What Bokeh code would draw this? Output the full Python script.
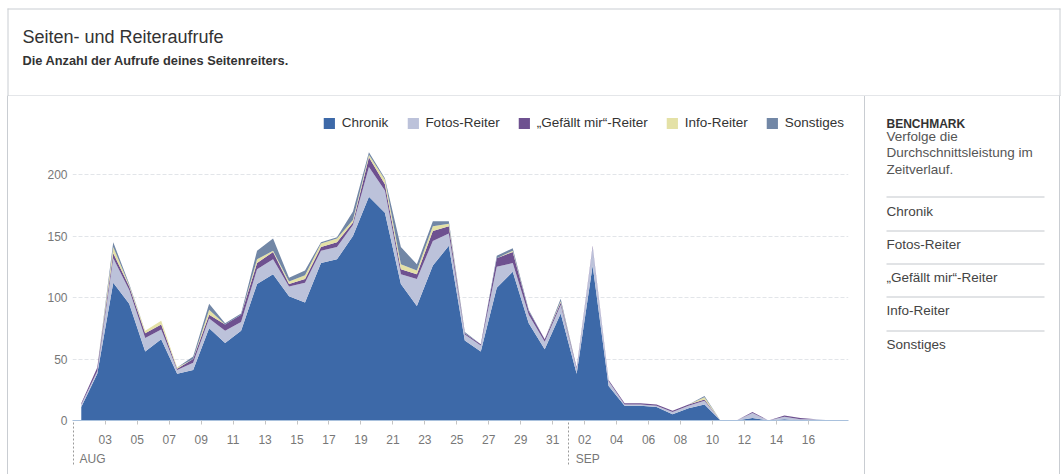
from bokeh.plotting import figure
from bokeh.models import (ColumnDataSource, FixedTicker, Legend, LegendItem, Label,
                          LinearAxis, Range1d, Spacer)
from bokeh.layouts import column, row
from bokeh.embed import file_html
from bokeh.resources import INLINE

# ---------------- data ----------------
# day index: 1 = 1 Aug ... 32 = 1 Sep ... 48 = 17 Sep
days = list(range(1, 49))
chronik = [11, 38, 112, 95, 56, 66, 38, 41, 75, 63,
           73, 111, 119, 101, 96, 128, 131, 150, 182, 169,
           111, 93, 126, 142, 65, 56, 108, 121, 79, 58,
           87, 38, 126, 28, 12, 12, 11, 5, 10, 13,
           0, 0, 2, 0, 1, 0, 0, 0]
fotos = [2, 2, 20, 11, 11, 8, 3, 6, 8, 10,
         7, 12, 12, 8, 16, 10, 10, 9, 24, 18,
         8, 22, 20, 10, 5, 5, 17, 7, 7, 6,
         7, 4, 15, 4, 1, 1, 1, 2, 2, 3,
         0, 0, 4, 0, 2, 1, 1, 0]
gefaellt = [1, 3, 4, 3, 4, 4, 1, 3, 3, 5,
            6, 5, 6, 2, 3, 3, 4, 2, 8, 5,
            4, 4, 8, 6, 1, 1, 7, 9, 3, 2,
            2, 1, 1, 1, 1, 1, 1, 1, 1, 1,
            0, 0, 1, 0, 1, 1, 0, 0]
info = [0, 0, 5, 1, 2, 3, 1, 0, 4, 0,
        0, 3, 1, 2, 3, 3, 3, 2, 2, 4,
        4, 3, 4, 2, 0, 0, 0, 1, 0, 0,
        1, 0, 0, 0, 0, 0, 0, 0, 0, 2,
        0, 0, 0, 0, 0, 0, 0, 0]
sonstiges = [0, 0, 4, 1, 0, 0, 0, 2, 5, 1,
             1, 7, 10, 3, 4, 1, 1, 7, 2, 1,
             14, 5, 4, 2, 1, 0, 2, 2, 1, 0,
             2, 0, 0, 0, 0, 0, 0, 0, 0, 1,
             0, 0, 0, 0, 0, 0, 0, 0]

series_names = ["Chronik", "Fotos-Reiter", "\u201eGef\u00e4llt mir\u201c-Reiter", "Info-Reiter", "Sonstiges"]
series_colors = ["#3d69a8", "#bcc2da", "#6e5190", "#e4e1a6", "#7287a6"]

x_tick_days = [3, 5, 7, 9, 11, 13, 15, 17, 19, 21, 23, 25, 27, 29, 31,
               33, 35, 37, 39, 41, 43, 45, 47]
x_tick_labels = ["03", "05", "07", "09", "11", "13", "15", "17", "19", "21", "23", "25", "27", "29", "31",
                 "02", "04", "06", "08", "10", "12", "14", "16"]
month_starts = [1, 32]
month_labels = ["AUG", "SEP"]
y_ticks = [0, 50, 100, 150, 200]

title_text = "Seiten- und Reiteraufrufe"
subtitle_text = "Die Anzahl der Aufrufe deines Seitenreiters."
side_head = "BENCHMARK"
side_lines = ["Verfolge die", "Durchschnittsleistung im", "Zeitverlauf."]

# ---------------- layout constants ----------------
TOTAL_W, TOTAL_H = 1064, 474
HEAD_H = 96
BODY_H = TOTAL_H - HEAD_H
PAD_L = 7
MAIN_W = 856
PAD_R = 4
SIDE_W = TOTAL_W - PAD_L - 1 - MAIN_W - 1 - 1 - PAD_R
FONT = "Liberation Sans"
BORDER = "#c9cdd2"
SEP = "#c3c7cc"

# chart frame inside its canvas (shared by main chart and side panel)
FL, FR, FT, FB = 64, 840, 15, 324
PX_PER_DAY = 15.98
PX_PER_UNIT = 1.23
x0 = 0.95
x1 = x0 + (FR - FL) / PX_PER_DAY
y1 = (FB - FT) / PX_PER_UNIT


def add_text(f, x, y, t, size="13.5px", color="#555555", style="normal"):
    f.add_layout(Label(x=x, y=y, text=t, text_font=FONT, text_font_size=size,
                       text_color=color, text_font_style=style,
                       text_baseline="middle", text_align="left"))


def vbar_spacer(w, color=None):
    if color is None:
        return Spacer(width=w, height=BODY_H)
    return Spacer(width=w, height=BODY_H, styles={"background-color": color})


# ---------------- header ----------------
hdr = figure(width=TOTAL_W, height=HEAD_H, output_backend="svg", toolbar_location=None,
             x_range=Range1d(0, TOTAL_W), y_range=Range1d(HEAD_H, 0),
             x_axis_type=None, y_axis_type=None, min_border=0)
hdr.grid.visible = False
hdr.outline_line_color = None
hdr.segment(x0=[7, 7.5, 1059.5, 7], y0=[8.5, 8, 8, 95.5],
            x1=[1060, 7.5, 1059.5, 1060], y1=[8.5, 96, 96, 95.5],
            line_color=BORDER, line_width=1)
add_text(hdr, 22, 36, title_text, size="18px", color="#333333")
add_text(hdr, 22, 60, subtitle_text, size="12.8px", color="#333333", style="bold")

# ---------------- main chart ----------------
keys = ["s0", "s1", "s2", "s3", "s4"]
data = {"x": [d + 0.5 for d in days]}
for k, vals in zip(keys, [chronik, fotos, gefaellt, info, sonstiges]):
    data[k] = vals
source = ColumnDataSource(data)

p = figure(width=MAIN_W, height=BODY_H, output_backend="svg", toolbar_location=None,
           x_range=Range1d(x0, x1), y_range=Range1d(0, y1),
           min_border_left=FL, min_border_right=MAIN_W - FR,
           min_border_top=FT, min_border_bottom=BODY_H - FB,
           background_fill_color="white", border_fill_color="white")
p.outline_line_color = None

renderers = p.varea_stack(stackers=keys, x="x", color=series_colors, source=source)

xa = p.xaxis[0]
xa.ticker = FixedTicker(ticks=x_tick_days, minor_ticks=month_starts)
xa.major_label_overrides = {d: l for d, l in zip(x_tick_days, x_tick_labels)}
xa.axis_line_color = "#a9c1dd"
xa.major_tick_in = 0
xa.major_tick_out = 4
xa.major_tick_line_color = "#c4c4c4"
xa.minor_tick_in = 0
xa.minor_tick_out = 44
xa.minor_tick_line_color = "#9a9a9a"
xa.minor_tick_line_dash = "2 2"
xa.major_label_standoff = 14 - 44
xa.major_label_text_font = FONT
xa.major_label_text_font_size = "12px"
xa.major_label_text_color = "#777777"

month_offset = 1.2
month_pos = [m + month_offset for m in month_starts]
ma = LinearAxis(ticker=FixedTicker(ticks=month_pos),
                major_label_overrides={pos: l for pos, l in zip(month_pos, month_labels)})
ma.axis_line_color = None
ma.major_tick_line_color = None
ma.major_tick_in = 0
ma.major_tick_out = 0
ma.minor_tick_line_color = None
ma.major_label_standoff = 5
ma.major_label_text_font = FONT
ma.major_label_text_font_size = "12px"
ma.major_label_text_color = "#777777"
p.add_layout(ma, "below")

ya = p.yaxis[0]
ya.ticker = FixedTicker(ticks=y_ticks)
ya.axis_line_color = None
ya.major_tick_line_color = None
ya.minor_tick_line_color = None
ya.major_tick_in = 0
ya.major_tick_out = 0
ya.major_label_standoff = 5
ya.major_label_text_font = FONT
ya.major_label_text_font_size = "12px"
ya.major_label_text_color = "#777777"

p.xgrid.visible = False
p.ygrid.ticker = FixedTicker(ticks=y_ticks[1:])
p.ygrid.grid_line_color = "#e2e5e9"
p.ygrid.grid_line_dash = "4 2"

legend = Legend(items=[LegendItem(label=n, renderers=[r]) for n, r in zip(series_names, renderers)],
                orientation="horizontal", location="top_right",
                glyph_width=14, glyph_height=14, label_standoff=6, spacing=17,
                padding=0, margin=4, border_line_color=None, background_fill_alpha=0,
                label_text_font=FONT, label_text_font_size="13.5px", label_text_color="#333333",
                label_height=14)
p.add_layout(legend)

# ---------------- side panel ----------------
# same top/bottom borders as the chart, so its frame lines up with it;
# y range equals canvas pixel rows (0 at top of the body row)
side = figure(width=SIDE_W, height=BODY_H, output_backend="svg", toolbar_location=None,
              x_range=Range1d(0, SIDE_W), y_range=Range1d(FB, FT),
              x_axis_type=None, y_axis_type=None,
              min_border_left=0, min_border_right=0,
              min_border_top=FT, min_border_bottom=BODY_H - FB)
side.grid.visible = False
side.outline_line_color = None
side.background_fill_color = "white"
side.border_fill_color = "white"

tx = 21
add_text(side, tx, 27, side_head, size="12px", color="#333333", style="bold")
for i, line in enumerate(side_lines):
    add_text(side, tx, 39.5 + i * 16.5, line, color="#555555")
sep_y0 = 100.5
step = 33.3
sep_ys = [round(sep_y0 + i * step) + 0.5 for i in range(len(series_names))]
side.segment(x0=[tx] * len(sep_ys), y0=sep_ys, x1=[tx + 158] * len(sep_ys), y1=sep_ys,
             line_color=SEP, line_width=1)
for i, name in enumerate(series_names):
    add_text(side, tx, sep_y0 + i * step + 14, name, color="#444444")

body = row(vbar_spacer(PAD_L), vbar_spacer(1, BORDER), p, vbar_spacer(1, BORDER),
           side, vbar_spacer(1, BORDER), vbar_spacer(PAD_R), spacing=0)
layout = column(hdr, body, spacing=0)

open("out.html", "w").write(file_html(layout, INLINE))
